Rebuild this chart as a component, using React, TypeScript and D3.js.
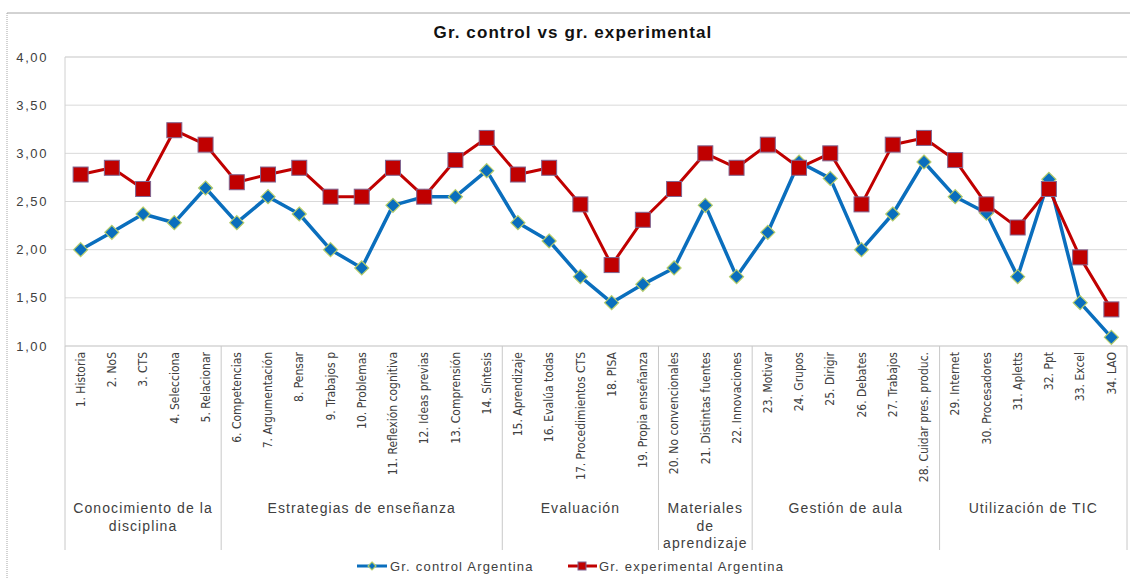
import * as d3 from 'd3';

const categories = [
  '1. Historia', '2. NoS', '3. CTS', '4. Selecciona', '5. Relacionar',
  '6. Competencias', '7. Argumentación', '8. Pensar', '9. Trabajos p', '10. Problemas',
  '11. Reflexión cognitiva', '12. Ideas previas', '13. Comprensión', '14. Síntesis',
  '15. Aprendizaje', '16. Evalúa todas', '17. Procedimientos CTS', '18. PISA',
  '19. Propia enseñanza', '20. No convencionales', '21. Distintas fuentes',
  '22. Innovaciones', '23. Motivar', '24. Grupos', '25. Dirigir', '26. Debates',
  '27. Trabajos', '28. Cuidar pres. produc.', '29. Internet', '30. Procesadores',
  '31. Apletts', '32. Ppt', '33. Excel', '34. LAO',
];

const control = [
  2.0, 2.18, 2.37, 2.28, 2.64, 2.28, 2.55, 2.37, 2.0, 1.81, 2.46, 2.55, 2.55, 2.82,
  2.28, 2.09, 1.72, 1.45, 1.64, 1.81, 2.46, 1.72, 2.18, 2.91, 2.74, 2.0, 2.37, 2.91,
  2.55, 2.38, 1.72, 2.73, 1.45, 1.09,
];

const experimental = [
  2.78, 2.85, 2.63, 3.24, 3.09, 2.7, 2.78, 2.85, 2.55, 2.55, 2.85, 2.55, 2.93, 3.16,
  2.78, 2.85, 2.47, 1.84, 2.31, 2.63, 3.0, 2.85, 3.09, 2.85, 3.0, 2.47, 3.09, 3.16,
  2.93, 2.47, 2.23, 2.63, 1.92, 1.38,
];

const groupNames = [
  ['Conocimiento de la', 'disciplina'],
  ['Estrategias de enseñanza'],
  ['Evaluación'],
  ['Materiales', 'de', 'aprendizaje'],
  ['Gestión de aula'],
  ['Utilización de TIC'],
];
const groupSizes = [5, 9, 5, 3, 6, 6];

const yTicks = [1, 1.5, 2, 2.5, 3, 3.5, 4];

const seriesNames = ['Gr. control Argentina', 'Gr. experimental Argentina'];

const width = 1130;
const height = 578;
const plotLeft = 65;
const plotRight = 1127;
const plotTop = 57;
const plotBottom = 346;
const sepBottom = 550;

const blue = '#0A6EBD';
const red = '#C00000';
const textColor = '#404040';
const narrow = '"Liberation Sans Narrow", "DejaVu Sans Condensed", "Arial Narrow", sans-serif';
const sans = '"Liberation Sans", Arial, sans-serif';

const fmt = d3.formatLocale({ decimal: ',', thousands: '.', grouping: [3], currency: ['', ''] }).format('.2f');

function Diamond({ cx, cy, r }: { cx: number; cy: number; r: number }) {
  return (
    <path
      d={`M${cx},${cy - r}L${cx + r},${cy}L${cx},${cy + r}L${cx - r},${cy}Z`}
      fill={blue}
      stroke='#B5CC6A'
      strokeWidth={1.2}
    />
  );
}

function Square({ cx, cy, s }: { cx: number; cy: number; s: number }) {
  return (
    <rect x={cx - s / 2} y={cy - s / 2} width={s} height={s} fill={red} stroke='#7F6591' strokeWidth={1} />
  );
}

export default function App() {
  const x = d3.scaleBand<string>().domain(categories).range([plotLeft, plotRight]).padding(0);
  const y = d3.scaleLinear().domain([1, 4]).range([plotBottom, plotTop]);
  const cx = (i: number) => (x(categories[i]) ?? 0) + x.bandwidth() / 2;

  const line = d3.line<number>().x((d, i) => cx(i)).y((d) => y(d));

  // group boundaries (as category index)
  const bounds = [0];
  groupSizes.forEach((n) => bounds.push(bounds[bounds.length - 1] + n));
  const edge = (k: number) => (k < categories.length ? x(categories[k]) ?? 0 : plotRight);

  return (
    <svg
      width={width}
      height={height}
      style={{ position: 'absolute', left: 0, top: 0, background: '#fff' }}
    >
      <rect width={width} height={height} fill='#fff' />
      {/* outer frame */}
      <line x1={7} x2={width} y1={13} y2={13} stroke='#A6A6A6' strokeWidth={1} />
      <line x1={7} x2={7} y1={13} y2={height} stroke='#A6A6A6' strokeWidth={1} strokeDasharray='1,1' />

      <text
        x={573}
        y={38}
        textAnchor='middle'
        fontFamily={sans}
        fontWeight='bold'
        fontSize={17}
        letterSpacing={1.1}
        fill='#111'
      >
        Gr. control vs gr. experimental
      </text>

      {/* grid */}
      {yTicks.map((t) => (
        <g key={t}>
          <line
            x1={plotLeft}
            x2={plotRight}
            y1={y(t)}
            y2={y(t)}
            stroke={t === 1 ? '#BFBFBF' : '#D9D9D9'}
            strokeWidth={t === 4 ? 1.5 : 1}
          />
          <text
            x={48}
            y={y(t)}
            dy='0.35em'
            textAnchor='end'
            fontFamily={sans}
            fontSize={13}
            letterSpacing={1.6}
            fill={textColor}
          >
            {fmt(t)}
          </text>
        </g>
      ))}
      <line x1={plotLeft} x2={plotLeft} y1={plotTop} y2={plotBottom} stroke='#D0D0D0' />

      {/* group separators */}
      {bounds.map((k) => (
        <line key={k} x1={edge(k)} x2={edge(k)} y1={plotBottom} y2={sepBottom} stroke='#C8C8C8' />
      ))}

      {/* category labels */}
      {categories.map((c, i) => (
        <text
          key={c}
          transform={`translate(${cx(i)},352) rotate(-90)`}
          dy='0.35em'
          textAnchor='end'
          fontFamily={narrow}
          fontSize={12}
          fill={textColor}
        >
          {c}
        </text>
      ))}

      {/* group labels */}
      {groupNames.map((lines, g) => {
        const mid = (edge(bounds[g]) + edge(bounds[g + 1])) / 2;
        return (
          <text key={g} textAnchor='middle' fontFamily={sans} fontSize={14} letterSpacing={1.1} fill={textColor}>
            {lines.map((l, j) => (
              <tspan key={j} x={mid} y={513 + j * 17.5}>
                {l}
              </tspan>
            ))}
          </text>
        );
      })}

      {/* series */}
      <path d={line(control) ?? ''} fill='none' stroke={blue} strokeWidth={3.5} strokeLinejoin='round' />
      <path d={line(experimental) ?? ''} fill='none' stroke={red} strokeWidth={3} strokeLinejoin='round' />
      {control.map((v, i) => (
        <Diamond key={i} cx={cx(i)} cy={y(v)} r={7} />
      ))}
      {experimental.map((v, i) => (
        <Square key={i} cx={cx(i)} cy={y(v)} s={15} />
      ))}

      {/* legend */}
      <g fontFamily={sans} fontSize={13} letterSpacing={1.2} fill={textColor}>
        <line x1={357} x2={387} y1={566} y2={566} stroke={blue} strokeWidth={3} />
        <Diamond cx={372} cy={566} r={4} />
        <text x={390} y={566} dy='0.35em'>
          {seriesNames[0]}
        </text>
        <line x1={568} x2={597} y1={566} y2={566} stroke={red} strokeWidth={3} />
        <Square cx={582} cy={566} s={8} />
        <text x={599} y={566} dy='0.35em'>
          {seriesNames[1]}
        </text>
      </g>
    </svg>
  );
}
